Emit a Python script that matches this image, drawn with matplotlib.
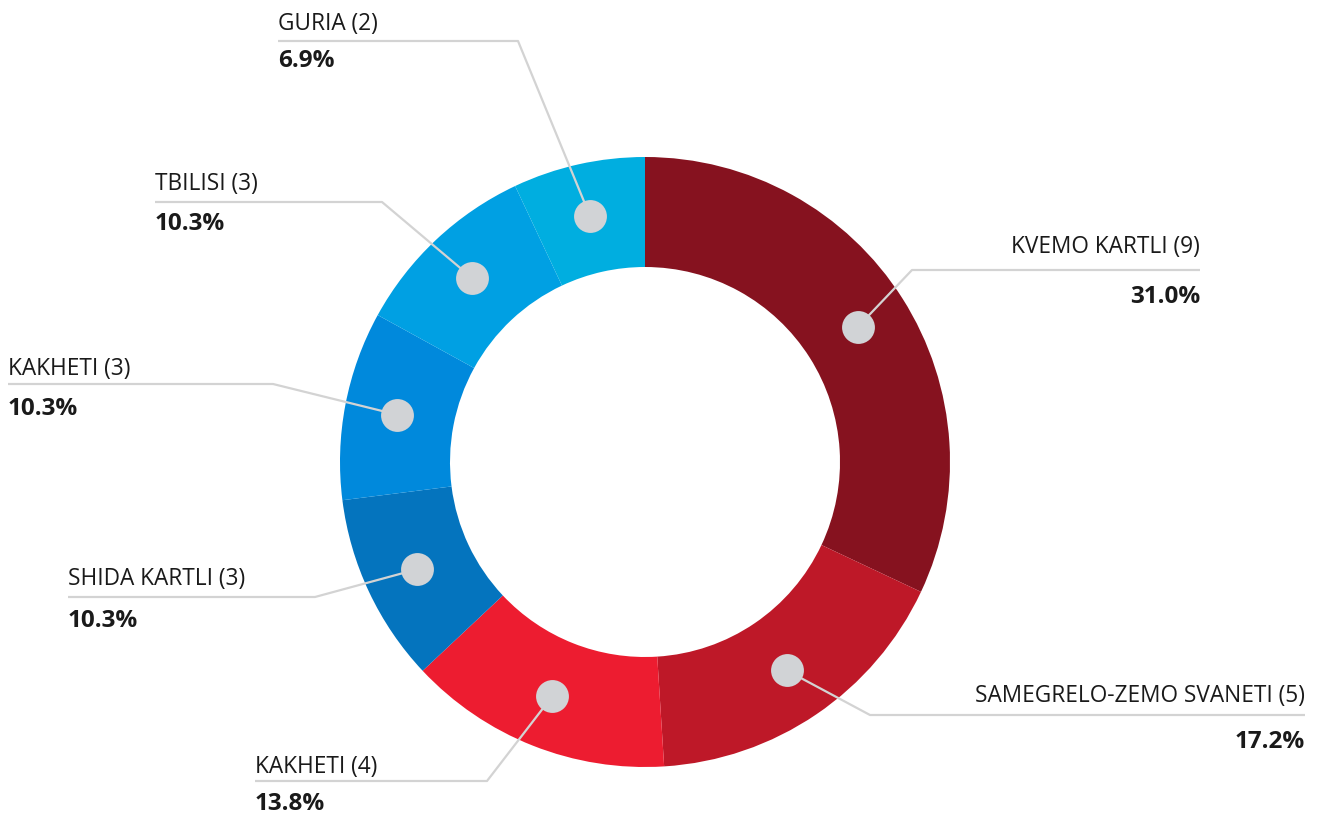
import numpy as np
import matplotlib.pyplot as plt

labels = ['KVEMO KARTLI', 'SAMEGRELO-ZEMO SVANETI', 'KAKHETI', 'SHIDA KARTLI',
          'KAKHETI', 'TBILISI', 'GURIA']
counts = [9, 5, 4, 3, 3, 3, 2]
# arc sizes as drawn in the picture (rounded shares, %)
shares = [32, 17, 14, 10, 10, 10, 7]
colors = ['#86121f', '#be1828', '#ed1c30', '#0474be', '#0089dc', '#00a0e3', '#00aee0']

# label layout (pixels): elbow of leader, end of horizontal line,
# baseline of name, baseline of percentage, alignment
elbows = [(912, 270), (870, 715), (487, 781), (315, 597), (273, 384), (382, 202), (518, 41)]
ends = [1200, 1305, 255, 68, 8, 155, 278]
name_y = [253, 702, 773, 585, 375, 190, 30]
pct_y = [303, 748, 810, 627, 415, 230, 67]
aligns = ['right', 'right', 'left', 'left', 'left', 'left', 'left']

plt.rcParams['font.family'] = ['Open Sans', 'DejaVu Sans']

fig = plt.figure(figsize=(13.2, 8.14), dpi=100)
ax = fig.add_axes([0, 0, 1, 1])

cx, cy, R, w = 645, 462, 305, 110
# y axis is inverted (pixel coords), so start at -90 and go counterclockwise in data space
wedges, _ = ax.pie(shares, colors=colors, startangle=-90, counterclock=True,
                   radius=R, center=(cx, cy), wedgeprops=dict(width=w, linewidth=0))
ax.set_xlim(0, 1320)
ax.set_ylim(814, 0)
ax.set_aspect('equal')
ax.axis('off')

total = sum(counts)
rm = R - w / 2 + 2
for i, wd in enumerate(wedges):
    ang = np.deg2rad((wd.theta1 + wd.theta2) / 2)
    dx = cx + rm * np.cos(ang)
    dy = cy + rm * np.sin(ang)
    ex, ey = elbows[i]
    xe, ha = ends[i], aligns[i]
    ax.plot([dx, ex, xe], [dy, ey, ey], color='#d3d3d3', lw=1.6, zorder=3,
            solid_capstyle='butt')
    ax.scatter([dx], [dy], s=560, color='#d1d3d6', zorder=4, linewidths=0)
    ax.text(xe, name_y[i], f'{labels[i]} ({counts[i]})', ha=ha, va='baseline',
            fontsize=16.3, color='#1a1a1a')
    ax.text(xe, pct_y[i], f'{counts[i] / total * 100:.1f}%', ha=ha, va='baseline',
            fontsize=17.5, fontweight='bold', color='#1a1a1a')

fig.savefig('out.png', dpi=100, facecolor='white')
